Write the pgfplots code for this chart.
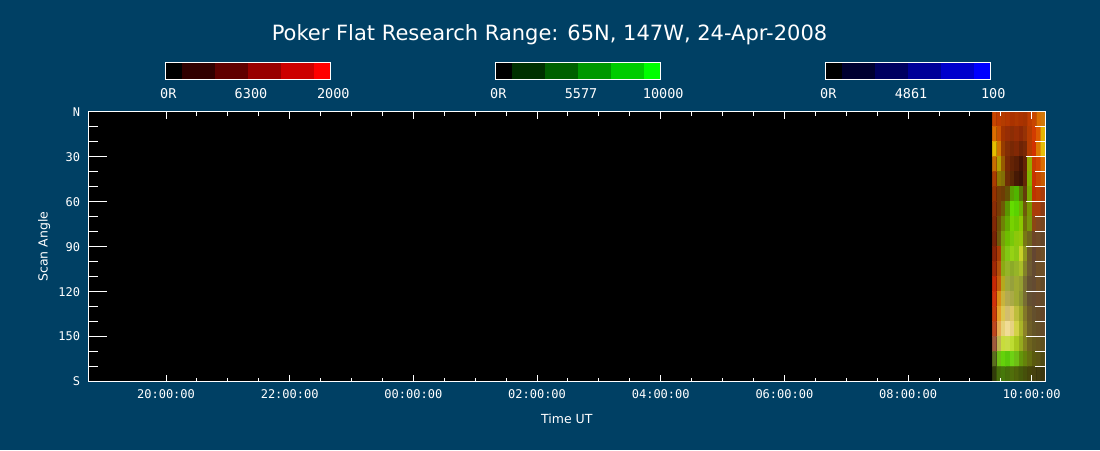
\documentclass[border=0pt]{standalone}
\usepackage{pgfplots}
\pgfplotsset{compat=1.18}
\usepackage{pgfplotstable}
\usepackage{fontspec}
\setmainfont{DejaVu Sans}
\newfontfamily\monof{DejaVu Sans Mono}
\definecolor{bg}{RGB}{0,64,100}
\definecolor{cbR}{RGB}{255,0,0}
\definecolor{cbG}{RGB}{0,255,0}
\definecolor{cbB}{RGB}{0,0,255}

\pgfplotstableread{
x y c
33.398 5 rgb255=200,70,0
33.469 5 rgb255=190,60,0
33.541 5 rgb255=180,60,0
33.612 5 rgb255=180,55,0
33.684 5 rgb255=170,50,0
33.755 5 rgb255=175,55,0
33.826 5 rgb255=170,50,0
33.898 5 rgb255=165,50,0
33.969 5 rgb255=190,60,0
34.041 5 rgb255=200,70,0
34.112 5 rgb255=220,110,0
34.184 5 rgb255=210,120,10
33.398 15 rgb255=220,110,0
33.469 15 rgb255=200,80,0
33.541 15 rgb255=160,50,0
33.612 15 rgb255=150,45,5
33.684 15 rgb255=140,45,5
33.755 15 rgb255=150,45,5
33.826 15 rgb255=140,40,5
33.898 15 rgb255=150,50,5
33.969 15 rgb255=180,60,0
34.041 15 rgb255=210,60,0
34.112 15 rgb255=220,90,0
34.184 15 rgb255=230,180,0
33.398 25 rgb255=230,190,0
33.469 25 rgb255=210,120,0
33.541 25 rgb255=150,60,0
33.612 25 rgb255=130,45,5
33.684 25 rgb255=120,40,5
33.755 25 rgb255=130,40,5
33.826 25 rgb255=110,35,5
33.898 25 rgb255=120,40,5
33.969 25 rgb255=180,60,0
34.041 25 rgb255=210,50,0
34.112 25 rgb255=220,120,0
34.184 25 rgb255=230,190,10
33.398 35 rgb255=200,110,0
33.469 35 rgb255=180,160,0
33.541 35 rgb255=150,90,0
33.612 35 rgb255=120,40,5
33.684 35 rgb255=100,35,5
33.755 35 rgb255=90,30,5
33.826 35 rgb255=70,20,5
33.898 35 rgb255=100,35,5
33.969 35 rgb255=150,170,0
34.041 35 rgb255=200,60,0
34.112 35 rgb255=210,70,0
34.184 35 rgb255=220,110,0
33.398 45 rgb255=170,60,0
33.469 45 rgb255=140,120,0
33.541 45 rgb255=130,110,5
33.612 45 rgb255=110,45,5
33.684 45 rgb255=90,40,5
33.755 45 rgb255=70,25,5
33.826 45 rgb255=60,20,5
33.898 45 rgb255=100,40,5
33.969 45 rgb255=130,180,0
34.041 45 rgb255=200,50,0
34.112 45 rgb255=200,70,0
34.184 45 rgb255=200,90,0
33.398 55 rgb255=150,50,0
33.469 55 rgb255=120,60,5
33.541 55 rgb255=110,60,5
33.612 55 rgb255=100,80,5
33.684 55 rgb255=90,160,0
33.755 55 rgb255=80,180,0
33.826 55 rgb255=90,120,5
33.898 55 rgb255=100,60,10
33.969 55 rgb255=120,170,0
34.041 55 rgb255=190,50,0
34.112 55 rgb255=190,60,0
34.184 55 rgb255=170,60,10
33.398 65 rgb255=140,45,5
33.469 65 rgb255=120,60,5
33.541 65 rgb255=110,90,5
33.612 65 rgb255=90,150,0
33.684 65 rgb255=100,220,0
33.755 65 rgb255=90,210,0
33.826 65 rgb255=110,180,0
33.898 65 rgb255=110,90,10
33.969 65 rgb255=120,150,0
34.041 65 rgb255=170,60,10
34.112 65 rgb255=170,60,10
34.184 65 rgb255=140,60,20
33.398 75 rgb255=130,40,5
33.469 75 rgb255=110,80,5
33.541 75 rgb255=110,130,5
33.612 75 rgb255=100,170,0
33.684 75 rgb255=120,210,0
33.755 75 rgb255=110,200,0
33.826 75 rgb255=140,200,0
33.898 75 rgb255=110,110,10
33.969 75 rgb255=120,150,10
34.041 75 rgb255=140,70,20
34.112 75 rgb255=130,70,30
34.184 75 rgb255=120,70,30
33.398 85 rgb255=120,35,5
33.469 85 rgb255=110,90,10
33.541 85 rgb255=120,160,10
33.612 85 rgb255=110,190,0
33.684 85 rgb255=120,200,10
33.755 85 rgb255=140,200,10
33.826 85 rgb255=150,200,10
33.898 85 rgb255=120,120,20
33.969 85 rgb255=110,100,30
34.041 85 rgb255=110,70,40
34.112 85 rgb255=110,75,40
34.184 85 rgb255=100,70,40
33.398 95 rgb255=140,35,5
33.469 95 rgb255=170,60,5
33.541 95 rgb255=130,170,10
33.612 95 rgb255=130,200,20
33.684 95 rgb255=150,210,20
33.755 95 rgb255=140,200,20
33.826 95 rgb255=200,210,40
33.898 95 rgb255=140,150,30
33.969 95 rgb255=110,90,40
34.041 95 rgb255=100,70,50
34.112 95 rgb255=110,75,40
34.184 95 rgb255=110,80,40
33.398 105 rgb255=160,40,5
33.469 105 rgb255=180,80,10
33.541 105 rgb255=140,170,20
33.612 105 rgb255=150,180,40
33.684 105 rgb255=140,170,40
33.755 105 rgb255=150,180,40
33.826 105 rgb255=170,190,40
33.898 105 rgb255=130,130,40
33.969 105 rgb255=110,90,50
34.041 105 rgb255=100,75,50
34.112 105 rgb255=110,80,40
34.184 105 rgb255=110,80,40
33.398 115 rgb255=200,40,5
33.469 115 rgb255=200,90,10
33.541 115 rgb255=180,170,30
33.612 115 rgb255=160,170,60
33.684 115 rgb255=150,160,60
33.755 115 rgb255=160,170,50
33.826 115 rgb255=150,160,50
33.898 115 rgb255=120,110,50
33.969 115 rgb255=100,80,50
34.041 115 rgb255=100,75,50
34.112 115 rgb255=110,80,40
34.184 115 rgb255=100,75,40
33.398 125 rgb255=210,50,10
33.469 125 rgb255=220,140,20
33.541 125 rgb255=200,180,60
33.612 125 rgb255=180,170,80
33.684 125 rgb255=170,170,70
33.755 125 rgb255=160,170,50
33.826 125 rgb255=140,150,50
33.898 125 rgb255=120,110,50
33.969 125 rgb255=100,80,50
34.041 125 rgb255=100,75,50
34.112 125 rgb255=105,75,45
34.184 125 rgb255=100,75,40
33.398 135 rgb255=200,60,10
33.469 135 rgb255=230,160,40
33.541 135 rgb255=220,200,80
33.612 135 rgb255=210,190,110
33.684 135 rgb255=220,200,100
33.755 135 rgb255=190,190,60
33.826 135 rgb255=160,170,40
33.898 135 rgb255=130,120,40
33.969 135 rgb255=110,90,40
34.041 135 rgb255=100,80,45
34.112 135 rgb255=100,75,40
34.184 135 rgb255=100,70,40
33.398 145 rgb255=190,70,30
33.469 145 rgb255=230,170,80
33.541 145 rgb255=230,210,120
33.612 145 rgb255=240,220,150
33.684 145 rgb255=230,210,130
33.755 145 rgb255=210,210,70
33.826 145 rgb255=170,180,40
33.898 145 rgb255=140,130,40
33.969 145 rgb255=110,95,40
34.041 145 rgb255=100,85,40
34.112 145 rgb255=100,80,40
34.184 145 rgb255=100,75,40
33.398 155 rgb255=160,90,60
33.469 155 rgb255=190,180,80
33.541 155 rgb255=200,220,60
33.612 155 rgb255=200,220,70
33.684 155 rgb255=190,220,50
33.755 155 rgb255=170,200,30
33.826 155 rgb255=150,170,30
33.898 155 rgb255=130,130,30
33.969 155 rgb255=110,100,30
34.041 155 rgb255=100,90,30
34.112 155 rgb255=100,85,30
34.184 155 rgb255=95,80,30
33.398 165 rgb255=90,110,30
33.469 165 rgb255=110,190,20
33.541 165 rgb255=100,210,10
33.612 165 rgb255=90,200,10
33.684 165 rgb255=110,210,20
33.755 165 rgb255=110,190,20
33.826 165 rgb255=100,150,10
33.898 165 rgb255=100,130,10
33.969 165 rgb255=100,110,15
34.041 165 rgb255=90,90,15
34.112 165 rgb255=90,85,20
34.184 165 rgb255=80,75,20
33.398 175 rgb255=50,60,10
33.469 175 rgb255=70,110,10
33.541 175 rgb255=70,120,10
33.612 175 rgb255=70,110,10
33.684 175 rgb255=80,110,10
33.755 175 rgb255=80,100,10
33.826 175 rgb255=70,90,10
33.898 175 rgb255=70,80,10
33.969 175 rgb255=70,70,10
34.041 175 rgb255=70,65,15
34.112 175 rgb255=65,60,15
34.184 175 rgb255=60,55,15
}\keodata

\begin{document}
\begin{tikzpicture}
\fill[bg] (0,0) rectangle (1100pt,450pt);
\node[anchor=base, font=\fontsize{21}{24}\selectfont, text=white, inner sep=0pt]
  at (549.5pt,409.4pt) {Poker Flat Research Range: 65N, 147W, 24-Apr-2008};
\begin{axis}[
  at={(88.3pt,68.4pt)}, anchor=south west,
  scale only axis, width=957pt, height=269.9pt,
  axis background/.style={fill=black},
  axis line style={white, line width=1pt},
  every tick/.style={white, line width=1pt},
  axis on top,
  xmin=18.7435, xmax=34.219, ymin=0, ymax=180, y dir=reverse,
  xtick={20,22,...,34},
  xticklabels={20:00:00,22:00:00,00:00:00,02:00:00,04:00:00,06:00:00,08:00:00,10:00:00},
  minor x tick num=3,
  ytick={0,30,...,180},
  yticklabels={N,30,60,90,120,150,S},
  minor y tick num=2,
  xtick style={/pgfplots/major tick length=7pt},
  minor x tick style={/pgfplots/minor tick length=4pt},
  ytick style={/pgfplots/major tick length=19pt},
  minor y tick style={/pgfplots/minor tick length=10pt},
  xticklabel style={font=\monof\fontsize{12}{14}\selectfont, text=white, anchor=base, inner sep=0pt, yshift=-16.7pt},
  yticklabel style={font=\monof\fontsize{12}{14}\selectfont, text=white, anchor=east, inner sep=0pt, xshift=-8pt},
  xlabel={Time UT}, ylabel={Scan Angle},
  label style={font=\fontsize{12.5}{15}\selectfont, text=white, inner sep=0pt},
  xlabel style={at={(axis description cs:0.5,-0.1545)}, anchor=base},
  ylabel style={at={(axis description cs:-0.0424,0.5)}, anchor=base},
]
\addplot[matrix plot*, mesh/color input=explicit, point meta=explicit symbolic, mesh/cols=12]
  table[meta=c] {\keodata};
\end{axis}
% colour bars
\foreach \xo/\base in {165.7/cbR, 495.7/cbG, 825.7/cbB}{
  \foreach \a/\b/\p in {0/1/0, 1/3/18.8, 3/5/37.6, 5/7/59.6, 7/9/80, 9/10/100}{
    \fill[fill=\base!\p!black] ({\xo pt + \a*16.46pt},370pt) rectangle ({\xo pt + \b*16.46pt},387.3pt);
  }
  \draw[white, line width=1pt] (\xo pt,370pt) rectangle ({\xo pt + 164.6pt},387.3pt);
}
\begin{scope}[every node/.style={text=white, anchor=base, inner sep=0pt, font=\monof\fontsize{13.5}{16}\selectfont}]
\node at (168.3pt,351pt) {0R};
\node at (251pt,351pt) {6300};
\node at (333.3pt,351pt) {2000};
\node at (498.3pt,351pt) {0R};
\node at (581pt,351pt) {5577};
\node at (663.3pt,351pt) {10000};
\node at (828.3pt,351pt) {0R};
\node at (911pt,351pt) {4861};
\node at (993.3pt,351pt) {100};
\end{scope}
\end{tikzpicture}
\end{document}
